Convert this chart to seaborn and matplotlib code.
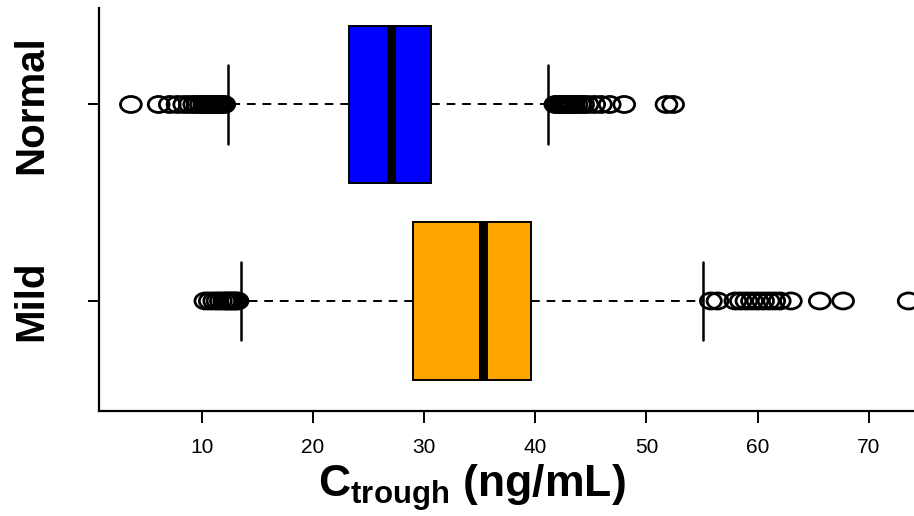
import matplotlib
matplotlib.use('Agg')
import pandas as pd
import matplotlib.pyplot as plt
import seaborn as sns
from matplotlib.path import Path

groups = ['Normal', 'Mild']
box_colors = ['#0000FF', '#FFA500']

# lower whisker, Q1, median, Q3, upper whisker
normal_box = [12.34, 23.23, 26.97, 30.61, 41.14]
mild_box = [13.51, 28.99, 35.25, 39.61, 55.09]

normal_outliers = [3.6, 6.1, 7.1, 7.8, 8.4, 8.9, 9.3, 9.6, 9.9, 10.2, 10.4,
                   10.6, 10.8, 11.0, 11.2, 11.4, 11.6, 11.8, 12.0,
                   41.8, 42.0, 42.2, 42.4, 42.6, 42.8, 43.0, 43.2, 43.4,
                   43.7, 44.0, 44.3, 44.7, 45.3, 45.9, 46.7, 48.0, 51.8, 52.4]
mild_outliers = [10.3, 10.7, 11.1, 11.4, 11.7, 12.0, 12.2, 12.4, 12.6, 12.8,
                 13.0, 13.2,
                 55.8, 56.4, 58.0, 58.5, 59.0, 59.5, 60.0, 60.5, 61.0, 61.5,
                 62.0, 63.0, 65.6, 67.7, 73.6]

x_ticks = [10, 20, 30, 40, 50, 60, 70]

box_df = pd.DataFrame({
    'conc': normal_box + mild_box,
    'group': ['Normal'] * len(normal_box) + ['Mild'] * len(mild_box),
})
out_df = pd.DataFrame({
    'conc': normal_outliers + mild_outliers,
    'group': ['Normal'] * len(normal_outliers) + ['Mild'] * len(mild_outliers),
})

sns.set_style('white')
plt.rcParams['font.family'] = ['Liberation Sans', 'DejaVu Sans']
plt.rcParams['mathtext.fontset'] = 'custom'
plt.rcParams['mathtext.rm'] = 'Liberation Sans'
plt.rcParams['mathtext.bf'] = 'Liberation Sans:bold'
plt.rcParams['text.color'] = 'black'

fig = plt.figure(figsize=(9.14, 5.16), dpi=100)
ax = fig.add_axes([99 / 914, 1 - 411 / 516, 815 / 914, 403 / 516])

sns.boxplot(data=box_df, x='conc', y='group', order=groups, hue='group',
            hue_order=groups, palette=box_colors, legend=False, saturation=1,
            width=0.8, whis=(0, 100), showfliers=False, linecolor='black',
            linewidth=1.4, medianprops=dict(linewidth=6.5),
            whiskerprops=dict(linestyle=(0, (4.5, 3.5))),
            capprops=dict(linewidth=1.8), ax=ax)

# open, slightly wide circles for the outliers
circ = Path.unit_circle()
ellipse = Path(circ.vertices * [1.3, 1.0], circ.codes)
sns.stripplot(data=out_df, x='conc', y='group', order=groups, jitter=False,
              color='black', marker=ellipse, size=15, linewidth=2.0,
              edgecolor='black', ax=ax)
for coll in ax.collections:
    coll.set_facecolor('none')

sns.despine(ax=ax)
for side in ['left', 'bottom']:
    ax.spines[side].set_linewidth(1.6)
    ax.spines[side].set_color('black')

ax.set_xlim(0.73, 74.08)
ax.set_ylim(1.56, -0.491)
ax.set_xticks(x_ticks)
ax.set_xticklabels([str(t) for t in x_ticks])
ax.set_yticks([0, 1])
ax.set_yticklabels(groups, rotation=90, va='center', fontweight='bold',
                   fontsize=29)
ax.tick_params(axis='x', bottom=True, length=8.5, width=1.4, pad=11,
               labelsize=15, colors='black')
ax.tick_params(axis='y', left=True, length=8, width=1.4, pad=27,
               colors='black')

ax.set_ylabel('')
ax.set_xlabel(r'$\mathbf{C}_{\mathbf{trough}}$ (ng/mL)', fontsize=32,
              fontweight='bold', color='black')
ax.xaxis.set_label_coords(0.4577, -0.128)

fig.savefig('out.png', dpi=100)
